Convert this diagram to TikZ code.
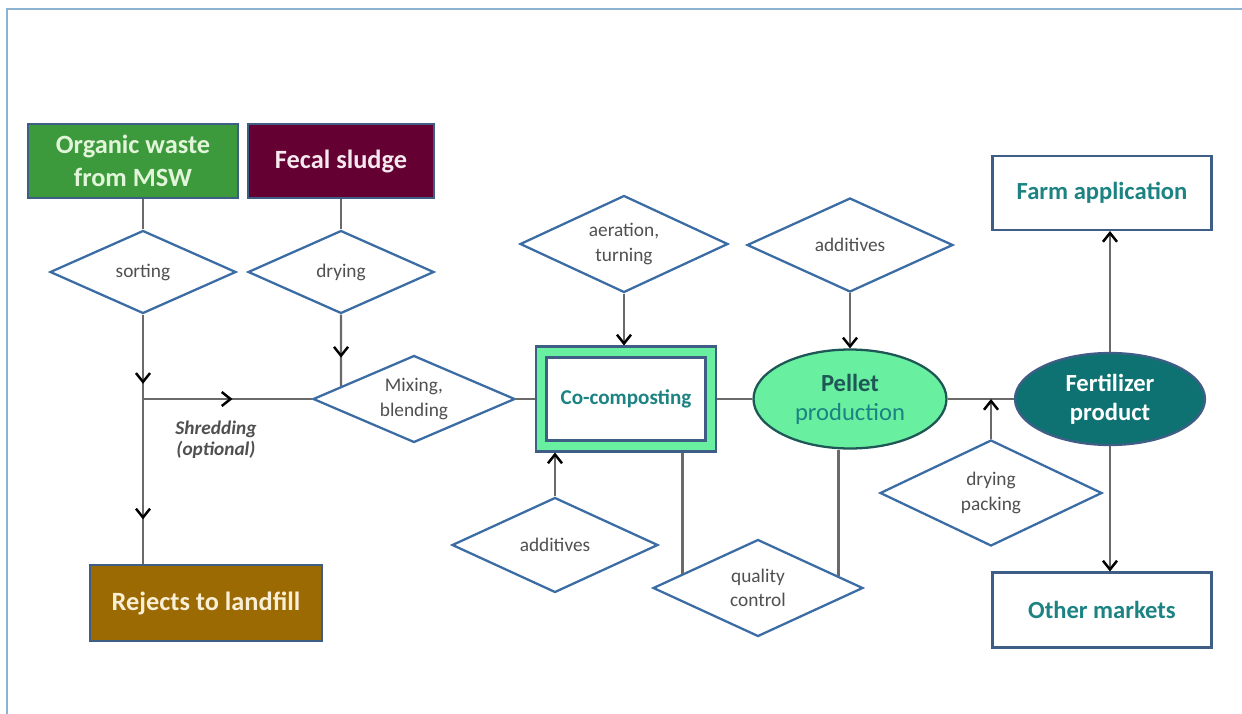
\documentclass[tikz,border=0pt]{standalone}
\usepackage{fontspec}
\setmainfont{Carlito}
\usetikzlibrary{positioning,shapes.geometric,arrows.meta,decorations.markings,calc}

\definecolor{framecol}{HTML}{8DB3D3}
\definecolor{boxline}{HTML}{3E5E86}
\definecolor{diamline}{HTML}{3B6CA3}
\definecolor{flowgray}{HTML}{6A6A6A}
\definecolor{choicetext}{HTML}{505050}
\definecolor{msw}{HTML}{3C9A3C}
\definecolor{mswtext}{HTML}{E2F5DA}
\definecolor{sludge}{HTML}{640032}
\definecolor{sludgetext}{HTML}{F6E8EF}
\definecolor{rejects}{HTML}{9C6A02}
\definecolor{rejectstext}{HTML}{F8EFD6}
\definecolor{lightgreen}{HTML}{68F0A0}
\definecolor{tealtext}{HTML}{1C8282}
\definecolor{darkteal}{HTML}{1F5656}
\definecolor{fert}{HTML}{0F7272}

\tikzset{
  box/.style={draw=boxline, line width=1.2pt, inner sep=2pt, align=center,
    font=\bfseries\fontsize{15}{18.5}\selectfont},
  choice/.style={diamond, aspect=2.2, draw=diamline, line width=1.3pt, fill=white,
    inner sep=0pt, align=center, text=choicetext, font=\fontsize{11}{14}\selectfont},
  flow/.style={draw=flowgray, line width=1.4pt},
  endtip/.style={-{Straight Barb[color=black,length=5pt,width=8pt]}},
  midtip/.style={postaction={decorate}, decoration={markings,
    mark=at position #1 with {\arrow{Straight Barb[color=black,length=5pt,width=8pt]}}}},
}

\begin{document}
\begin{tikzpicture}[x=0.02cm, y=-0.02cm]
\useasboundingbox (0,0) rectangle (1242,714);
\draw[framecol, line width=1pt] (7,714) -- (7,9) -- (1242,9);

% inputs
\node[box, fill=msw, text=mswtext, minimum width=4.2cm, minimum height=1.48cm] (organic) at (133,161) {Organic waste\\from MSW};
\node[box, fill=sludge, text=sludgetext, minimum width=3.72cm, minimum height=1.48cm] (sludge) at (341,161) {Fecal sludge};
\node[choice, minimum width=3.72cm, minimum height=1.66cm] (sorting) at (143,272) {sorting};
\node[choice, minimum width=3.72cm, minimum height=1.66cm] (drying) at (341,272) {drying};
\coordinate (split) at (143,399);
\node[font=\bfseries\itshape\fontsize{11}{12}\selectfont, text=choicetext, align=center] (shred) at (216,440) {Shredding\\(optional)};
\node[box, fill=rejects, text=rejectstext, minimum width=4.64cm, minimum height=1.52cm] (rejects) at (206,603) {Rejects to landfill};
\node[choice, minimum width=4.04cm, minimum height=1.74cm] (mixing) at (414,399) {Mixing,\\blending};

% composting
\node[draw=boxline, line width=1.2pt, fill=lightgreen, minimum width=3.6cm, minimum height=2.1cm] (cocomp) at (626,399) {};
\node[draw=boxline, line width=1.2pt, fill=white, minimum width=3.18cm, minimum height=1.66cm, text=tealtext,
  font=\bfseries\fontsize{12}{14}\selectfont] (cocompin) at (cocomp) {Co-composting};
\node[choice, minimum width=4.16cm, minimum height=1.94cm] (aeration) at (624,244) {aeration,\\turning};
\node[choice, minimum width=4.12cm, minimum height=1.9cm] (addlow) at (555,545) {additives};
\node[choice, minimum width=4.2cm, minimum height=1.94cm] (quality) at (758,588) {quality\\control};

% pellets and products
\node[ellipse, draw=darkteal, line width=1.3pt, fill=lightgreen, minimum width=3.86cm, minimum height=1.98cm, align=center,
  font=\fontsize{14}{16.5}\selectfont, text=tealtext] (pellet) at (850,399) {\textcolor{darkteal}{\bfseries Pellet}\\production};
\node[choice, minimum width=4.12cm, minimum height=1.88cm] (addtop) at (850,245) {additives};
\node[ellipse, draw=boxline, line width=1.3pt, fill=fert, minimum width=3.8cm, minimum height=1.84cm, align=center,
  font=\bfseries\fontsize{14}{16.5}\selectfont, text=white] (fert) at (1110,399) {Fertilizer\\product};
\node[choice, minimum width=4.44cm, minimum height=2.12cm] (packing) at (991,493) {drying\\packing};
\node[box, fill=white, text=tealtext, minimum width=4.38cm, minimum height=1.48cm, font=\bfseries\fontsize{14}{16}\selectfont] (farm) at (1102,193) {Farm application};
\node[box, fill=white, text=tealtext, minimum width=4.38cm, minimum height=1.5cm, font=\bfseries\fontsize{14}{16}\selectfont] (markets) at (1102,610) {Other markets};

\coordinate (qcleft) at ($(quality.west)!0.29!(quality.north)$);
\coordinate (qcright) at ($(quality.east)!0.24!(quality.north)$);

% connectors
\draw[flow] (sorting.north |- organic.south) -- (sorting.north);
\draw[flow] (drying.north |- sludge.south) -- (drying.north);
\draw[flow, midtip=0.82] (sorting.south) -- (split);
\draw[flow, midtip=0.53] (split) -- (split -| mixing.west);
\draw[flow, midtip=0.73] (split) -- (split |- rejects.north);
\draw[flow, midtip=0.6] (drying.south) -- (intersection of drying.south--drying.north and mixing.west--mixing.north);
\draw[flow] (mixing.east) -- (cocomp.west);
\draw[flow, endtip] (aeration.south) -- (aeration.south |- cocomp.north);
\draw[flow, endtip] (addlow.north) -- (addlow.north |- cocomp.south);
\draw[flow] (qcleft |- cocomp.south) -- (qcleft);
\draw[flow] (cocomp.east) -- (pellet.west);
\draw[flow, endtip] (addtop.south) -- (pellet.north);
\draw[flow] (qcright |- pellet.south) -- (qcright);
\draw[flow] (pellet.east) -- (fert.west);
\draw[flow, endtip] (packing.north) -- (packing.north |- pellet.east);
\draw[flow, endtip] (fert.north) -- (fert.north |- farm.south);
\draw[flow, endtip] (fert.south) -- (fert.south |- markets.north);
\end{tikzpicture}
\end{document}
